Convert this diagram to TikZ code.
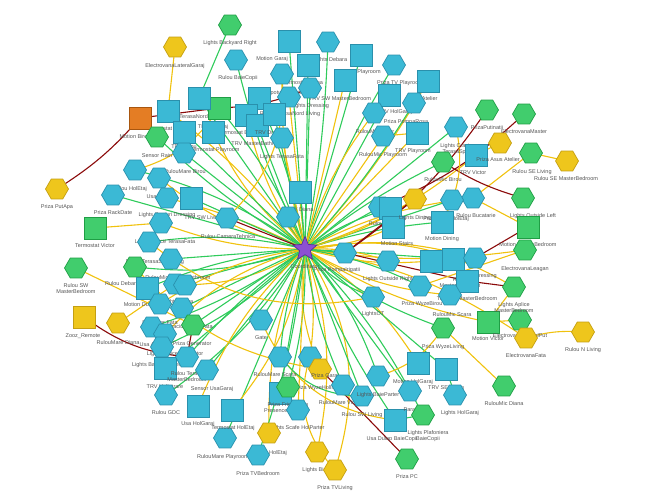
\documentclass[tikz,border=0pt]{standalone}
\usepackage{fontspec}
\setmainfont{Liberation Sans}
\usepackage{xcolor}
\usepackage{tikz}
\usetikzlibrary{shapes.geometric}
\pgfdeclarelayer{edges}
\pgfsetlayers{edges,main}

\definecolor{hexblue}{HTML}{3BB9D5}
\definecolor{hexblueline}{HTML}{2A90AC}
\definecolor{hexgreen}{HTML}{41CD6D}
\definecolor{hexgreenline}{HTML}{1F9E45}
\definecolor{hexyellow}{HTML}{EEC61C}
\definecolor{hexyellowline}{HTML}{C49F12}
\definecolor{hexorange}{HTML}{E47D24}
\definecolor{hexorangeline}{HTML}{A8560F}
\definecolor{starpurple}{HTML}{8C50D2}
\definecolor{starline}{HTML}{5A2C9C}
\definecolor{linkgreen}{HTML}{2FCB5B}
\definecolor{linkyellow}{HTML}{F0C20E}
\definecolor{linkred}{HTML}{8B0A0A}
\definecolor{labgray}{HTML}{555555}

\begin{document}
\begin{tikzpicture}[x=1pt, y=-1pt,
		dev/.style={draw, line width=0.7pt, inner sep=0pt},
		bh/.style={dev, regular polygon, regular polygon sides=6, minimum size=23pt, fill=hexblue, draw=hexblueline},
		gh/.style={dev, regular polygon, regular polygon sides=6, minimum size=23pt, fill=hexgreen, draw=hexgreenline},
		yh/.style={dev, regular polygon, regular polygon sides=6, minimum size=23pt, fill=hexyellow, draw=hexyellowline},
		bs/.style={dev, rectangle, minimum size=22pt, fill=hexblue, draw=hexblueline},
		gs/.style={dev, rectangle, minimum size=22pt, fill=hexgreen, draw=hexgreenline},
		ys/.style={dev, rectangle, minimum size=22pt, fill=hexyellow, draw=hexyellowline},
		os/.style={dev, rectangle, minimum size=22pt, fill=hexorange, draw=hexorangeline},
		hub/.style={dev, star, star points=5, star point ratio=2.2, minimum size=25pt, fill=starpurple, draw=starline},
		devlabel/.style={font=\fontsize{5.5}{6}\selectfont, text=labgray, align=center, inner sep=0pt},
		gl/.style={linkgreen, line width=1.1pt},
		yl/.style={linkyellow, line width=1.1pt},
		rl/.style={linkred, line width=1.1pt}]
	
	% canvas
	\useasboundingbox (0,0) rectangle (652,500);
	
	% devices: name / x / y / shape / label x / label y / label
	\foreach \n/\x/\y/\s/\lx/\ly/\t in {
		elg/175/47/yh/175/66/ElectrovanaLateralGaraj,
		lbr/230/25/gh/230/43/Lights Backyard Right,
		rbc/236/60/bh/238/78/Rulou BaieCopii,
		mgar/289/41/bs/272/59/Motion Garaj,
		ldeb/328/42/bh/330/60/Lights Debara,
		mpl/361/55/bs/360/72/Motion Playroom,
		ptvp/394/65/bh/400/83/Priza TV Playroom,
		usat/428/81/bs/424/99/Usa Atelier,
		tdia/308/65/bs/303/83/Termostat Diana,
		lsb/282/74/bh/280/93/Lights Spoturi Bucatarie,
		trvsw/345/80/bs/340/99/TRV SW MasterBedroom,
		ldr/310/88/bh/310/106/Lights Dressing,
		trvne/259/98/bs/254/117/TRV NE Living,
		rtn/289/97/bh/290/114/Rulou TerasaNord Living,
		tbir/246/115/bs/238/133/Termostat Birou,
		trvmb/257/125/bs/258/144/TRV MasterBathroom,
		trvdr/274/114/bs/272/133/TRV Dressing,
		ltf/282/138/bh/282/157/Lights TerasaFata,
		trvhe/219/108/gs/213/127/TRV HolEtaj,
		utn/199/98/bs/188/117/Usa TerasaNord,
		tpl/213/132/bs/215/150/Termostat Playroom,
		tliv/168/111/bs/168/129/Termostat Living,
		trvb/184/132/bs/184/147/TRV Birou,
		mbir/140/118/os/135/137/Motion Birou,
		srain/157/137/gh/157/156/Sensor Rain,
		rmb/184/153/bh/185/172/RulouMare Birou,
		trvhg/389/95/bs/395/112/TRV HolGaraj,
		rmv/374/113/bh/375/132/RulouMic Victor,
		rmp/383/136/bh/383/155/RulouMic Playroom,
		ppr/414/103/bh/406/122/Priza PompaRosa,
		trvp/417/133/bs/413/151/TRV Playroom,
		lcts/456/127/bh/458/149/Lights Craciun\\TerasaSpate,
		pput/487/110/gh/487/128/PrizaPutinatii,
		elm/524/114/gh/524/132/ElectrovanaMaster,
		trvv/476/155/bs/473/173/TRV Victor,
		pasus/500/143/yh/498/160/Priza Asus Atelier,
		rse/531/153/gh/532/172/Rulou SE Living,
		rsem/567/161/yh/566/179/Rulou SE MasterBedroom,
		rmbir/443/162/gh/443/180/RulouMic Birou,
		ppa/57/189/yh/57/207/Priza PutApa,
		tvic/95/228/gs/95/246/Termostat Victor,
		rswm/76/268/gh/76/289/Rulou SW\\MasterBedroom,
		zooz/84/317/ys/83/336/Zooz\_Remote,
		rmd/118/323/yh/118/343/RulouMare Diana,
		rhe/135/170/bh/130/189/Rulou HolEtaj,
		ugar/159/178/bh/159/197/Usa Garaj,
		prd/113/195/bh/113/213/Priza RackDate,
		lspd/167/198/bh/167/215/Lights Spoturi Dressing,
		trvswl/191/198/bs/203/218/TRV SW Living,
		lapt/161/223/bh/165/242/Lights Aplice TerasaFata,
		rct/227/218/bh/228/237/Rulou CameraTehnica,
		rtsl/149/242/bh/155/262/Rulou TerasaSud Living,
		rmmb/171/259/bh/178/278/RulouMic MasterBathroom,
		rdeb/135/267/gh/122/284/Rulou Debara,
		mdun/147/288/bs/140/305/Motion Dunia,
		lsca/175/284/bh/178/302/Lights Scara,
		hx1/185/285/bh/185/285/,
		rfa/160/304/bh/160/323/Repeater Fata,
		lccf/182/308/bh/182/327/Lights Craciun CurteFata,
		ua2/152/327/bh/153/345/Usa Atelier,
		pgen/193/325/gh/192/344/Priza Generator,
		lapv/165/334/bh/175/354/Lights Aplice Pat Victor,
		lbl/162/347/bh/157/365/Lights Backyard Left,
		trvhi/165/368/bs/165/387/TRV HolIntrare,
		rtm/187/357/bh/187/377/Rulou Terasa\\MasterBedroom,
		sug/207/370/bh/212/389/Sensor UsaGaraj,
		rgdc/166/395/bh/166/413/Rulou GDC,
		uhg/198/406/bs/198/424/Usa HolGaraj,
		rmpl/225/438/bh/223/457/RulouMare Playroom,
		thol/232/410/bs/233/428/Termostat HolEtaj,
		gate/261/320/bh/261/338/Gate,
		rms/280/357/bh/275/375/RulouMare Scara,
		pwhi/310/357/bh/320/388/Priza WyzeHolIntrare,
		pgar/320/369/yh/325/376/Priza Garaj,
		pfv/280/393/bs/288/405/Priza FrigiderVin,
		pd/288/387/gh/287/411/Presence Detector,
		lsh/298/410/bh/297/428/Lights Scafe HolParter,
		lhe/269/433/yh/270/453/Lights HolEtaj,
		ptvb/258/455/bh/258/474/Priza TVBedroom,
		lbir/317/452/yh/317/470/Lights Birou,
		ptvl/335/470/yh/335/488/Priza TVLiving,
		rmvic/343/385/bh/340/403/RulouMare Victor,
		rswl/362/396/bh/362/415/Rulou SW Living,
		lbp/378/376/bh/378/395/Lights BaieParter,
		udbc/395/420/bs/392/439/Usa Dulap BaieCopii,
		ppc/407/459/gh/407/477/Priza PC,
		mhg/418/363/bs/413/382/Motion HolGaraj,
		par/410/391/bh/413/410/Paradis,
		lpbc/423/415/gh/428/436/Lights Plafoniera\\BaieCopii,
		pwl/443/328/gh/443/347/Priza WyzeLiving,
		mvic/488/322/gs/488/339/Motion Victor,
		elp/520/320/gh/520/336/ElectrovanaLateralPut,
		elf/526/338/yh/526/356/ElectrovanaFata,
		rnl/583/332/yh/583/350/Rulou N Living,
		rmdia/504/386/gh/504/404/RulouMic Diana,
		trvsel/446/369/bs/446/388/TRV SE Living,
		lhg/455/395/bh/460/413/Lights HolGaraj,
		rbuc/473/198/bh/476/216/Rulou Bucatarie,
		lol/523/198/gh/533/216/Lights Outside Left,
		mmb/528/227/gs/528/245/Motion MasterBedroom,
		ell/525/250/gh/525/269/ElectrovanaLeagan,
		lamb/514/287/gh/514/308/Lights Aplice\\MasterBedroom,
		pwhe/452/200/bh/446/219/Priza WyzeHolEtaj,
		mdin/442/222/bs/442/239/Motion Dining,
		sq4/431/261/bs/431/261/,
		rmbath/453/259/bs/460/283/Rulou\\MasterBathroom,
		rdr/475/258/bh/478/276/Rulou Dressing,
		trvse/467/281/bs/467/299/TRV SE MasterBedroom,
		rmsca/450/295/bh/452/315/RulouMic Scara,
		pwb/420/286/bh/422/304/Priza WyzeBirou,
		lot/373/297/bh/373/314/LightsOT,
		lor/388/261/bh/388/279/Lights Outside Right,
		ppi/345/253/bh/337/270/Priza PompaIrigatii,
		rsc/380/207/bh/384/224/Rulou Scara,
		sqx/390/208/bs/390/208/,
		mst/393/227/bs/397/244/Motion Stairs,
		ldin/415/199/yh/415/218/Lights Dining,
		sqd/300/192/bs/300/210/TRV Diana,
		hxc/288/217/bh/288/217/,
		co/305/249/hub/305/267/Coordinator}
	{
		\node[\s] (\n) at (\x,\y) {};
		\node[devlabel] (\n-t) at (\lx,\ly) {\t};
	}
	
	% links, under the devices
	\begin{pgfonlayer}{edges}
		\foreach \a/\b/\c/\k in {
			co/rbc/gl/6, co/mgar/gl/0, co/ldeb/gl/-4, co/mpl/gl/0, co/ptvp/gl/5, co/usat/yl/-6,
			co/tdia/gl/0, co/lsb/yl/8, co/trvsw/yl/0, co/ldr/gl/0, co/trvne/gl/-6, co/rtn/yl/0,
			co/tbir/yl/10, co/trvmb/gl/0, co/trvdr/gl/0, co/ltf/yl/0, co/trvhe/gl/-8, co/utn/gl/0,
			co/tpl/yl/12, co/tliv/yl/-8, co/trvb/gl/0, co/srain/gl/6, co/rmb/gl/0, co/trvhg/gl/0,
			co/rmv/yl/10, co/rmp/yl/0, co/ppr/gl/-5, co/trvp/yl/0, co/lcts/gl/0, co/trvv/yl/-10,
			co/rmbir/gl/6, co/rhe/gl/-10, co/ugar/yl/12, co/prd/gl/0, co/lspd/yl/-6, co/trvswl/gl/0,
			co/lapt/yl/10, co/rct/rl/0, co/rtsl/gl/-10, co/rmmb/gl/0, co/rdeb/gl/12, co/mdun/gl/-8,
			co/lsca/gl/0, co/hx1/yl/15, co/rfa/yl/-12, co/lccf/gl/0, co/ua2/gl/8, co/pgen/gl/0,
			co/lapv/yl/-15, co/lbl/gl/10, co/trvhi/gl/0, co/rtm/gl/-6, co/sug/gl/0, co/rgdc/gl/10,
			co/uhg/yl/-12, co/rmpl/gl/0, co/thol/yl/15, co/gate/gl/0, co/rms/gl/-8, co/pwhi/yl/10,
			co/pgar/yl/-15, co/pfv/gl/0, co/pd/gl/8, co/lsh/yl/0, co/lhe/yl/-12, co/ptvb/gl/6,
			co/lbir/yl/15, co/ptvl/yl/25, co/rmvic/gl/-8, co/rswl/gl/0, co/lbp/gl/10, co/udbc/gl/-6,
			co/mhg/yl/12, co/par/gl/0, co/lpbc/gl/8, co/pwl/gl/-10, co/mvic/yl/-10, co/elf/yl/12,
			co/trvsel/gl/0, co/rbuc/yl/10, co/ell/yl/-8, co/pwhe/gl/0, co/mdin/gl/6, co/sq4/yl/-10,
			co/rmbath/gl/0, co/rdr/yl/12, co/rmsca/yl/-12, co/pwb/gl/8, co/lot/gl/-15, co/lor/yl/10,
			co/ppi/gl/0, co/mst/yl/-10, co/rsc/gl/0, co/sqx/gl/8, co/sqd/gl/0, co/hxc/yl/0,
			co/lamb/yl/20, co/ldin/yl/-8,
			elg/tliv/yl/0, lbr/utn/gl/0, ppa/mbir/rl/-8, mbir/trvhe/rl/0, trvhe/ldr/rl/-10,
			tvic/lapt/yl/0, rswm/pgen/yl/0, zooz/rtm/rl/-15, rmd/lsca/yl/0, ppc/pgar/rl/0,
			rmdia/pwl/yl/0, rnl/elf/yl/-10, elp/mvic/yl/0, pasus/trvv/yl/0, rsem/rse/yl/0,
			rse/rbuc/yl/0, pput/ppi/rl/10, elm/rsc/rl/10, lol/rmbir/rl/8, mmb/rdr/rl/0,
			lamb/trvse/rl/0, ppi/trvse/rl/0, ldin/ppi/rl/0, pgen/rtm/rl/0, lhg/trvsel/gl/0,
			lpbc/udbc/gl/0, lsb/rct/yl/25, rhe/trvhe/yl/-20, lbp/pwl/yl/-20, gate/udbc/yl/-30,
			rms/rswl/gl/-25, trvp/rmp/yl/0, lcts/mdin/yl/20, rtsl/lot/yl/-25, rdeb/pgar/yl/-20,
			ptvl/pwhi/yl/30, mvic/lamb/yl/0, ell/pwb/yl/0, rbuc/mmb/yl/0}
		\draw[\c] (\a.center) to[bend left=\k] (\b.center);
	\end{pgfonlayer}
	
\end{tikzpicture}
\end{document}
